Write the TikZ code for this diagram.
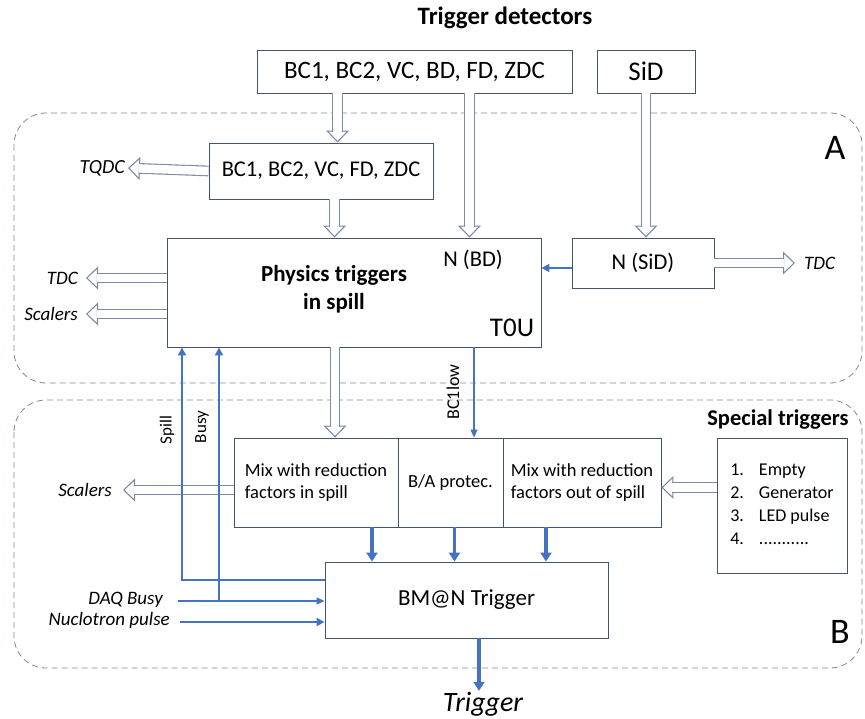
\documentclass[tikz,border=0pt]{standalone}
\usepackage{fontspec}
\setmainfont{Carlito}
\usepackage{tikz}
\usetikzlibrary{arrows.meta,calc,positioning}
\definecolor{boxline}{HTML}{44546A}
\definecolor{hollowline}{HTML}{7A8CA8}
\definecolor{zoneline}{HTML}{7A8BA5}
\definecolor{sigblue}{HTML}{4472C4}

% wide open arrow: outline tip first, then the white double shaft on top
\newcommand{\hollowarrow}[2]{%
  \draw[hollowtip] #1 -- #2;
  \draw[hollowbody] #1 -- #2;}

\begin{document}
\begin{tikzpicture}[x=1pt, y=-1pt, >=Latex,
  block/.style={draw=boxline, line width=0.9pt, fill=white, inner sep=0pt,
    font=\fontsize{25}{29}\selectfont},
  outlbl/.style={inner sep=5pt, font=\itshape\fontsize{19}{22}\selectfont},
  vtag/.style={rotate=90, inner sep=1pt, font=\fontsize{17}{20}\selectfont},
  zone/.style={draw=zoneline, line width=0.8pt, dash pattern=on 6pt off 4pt,
    rounded corners=32pt},
  zonetag/.style={font=\fontsize{36}{40}\selectfont},
  hollowtip/.style={draw=hollowline, line width=1.1pt,
    -{Triangle[length=12pt, width=23pt, fill=white]}},
  hollowbody/.style={draw=hollowline, line width=1.1pt, double=white,
    double distance=8.5pt, shorten >=11pt},
  sigthick/.style={draw=sigblue, line width=3.5pt,
    -{Triangle[length=9pt, width=11pt]}},
  sigmid/.style={draw=sigblue, line width=2pt,
    -{Triangle[length=8pt, width=8pt]}},
  sigthin/.style={draw=sigblue, line width=1.2pt,
    -{Triangle[length=8pt, width=7pt]}}]

  \useasboundingbox (0,0) rectangle (865,719);

  % ================= ZONES =================
  \draw[zone] (14,113) rectangle (862,383);
  \draw[zone] (14,400) rectangle (862,668);
  \node[zonetag] (tagA) at (835,148) {A};
  \node[zonetag] (tagB) at (840,632) {B};

  % ================= TRIGGER DETECTORS =================
  \node[font=\bfseries\fontsize{25}{29}\selectfont] (title) at (505,18) {Trigger detectors};
  \node[block, minimum width=315pt, minimum height=43pt] (det) at (414.5,71.5)
    {BC1, BC2, VC, BD, FD, ZDC};
  \node[block, minimum width=98pt, minimum height=43pt,
    font=\fontsize{27}{31}\selectfont] (sid) at (646,71.5) {SiD};

  % ================= ZONE A: T0U =================
  \node[block, minimum width=224pt, minimum height=56pt,
    font=\fontsize{22.5}{26}\selectfont] (tqdc) at (321,171)
    {BC1, BC2, VC, FD, ZDC};
  \node[block, minimum width=374pt, minimum height=109pt] (phys) at (354,292.5) {};
  \node[align=center, font=\bfseries\fontsize{23}{28}\selectfont] (physname) at (334,289)
    {Physics triggers\\in spill};
  \node[font=\fontsize{22.5}{26}\selectfont] (nbd) at (473,260) {N (BD)};
  \node[font=\fontsize{27}{31}\selectfont] (t0u) at (512,328) {T0U};
  \node[block, minimum width=142pt, minimum height=50pt,
    font=\fontsize{22.5}{26}\selectfont] (nsid) at (643,263) {N (SiD)};

  % outputs of zone A
  \node[outlbl, anchor=east, inner sep=3pt, font=\itshape\fontsize{20}{23}\selectfont]
    (tqdcout) at (128,168) {TQDC};
  \node[outlbl, anchor=east, inner sep=8pt] (tdcL) at (86,278) {TDC};
  \node[outlbl, anchor=east, inner sep=8pt] (scalA) at (86,314) {Scalers};
  \node[outlbl, anchor=west, inner sep=9pt] (tdcR) at (795,263) {TDC};

  \coordinate (detA) at ([xshift=81pt]det.south west);
  \coordinate (detB) at ([xshift=-103pt]det.south east);
  \coordinate (tqA) at ([xshift=126pt]tqdc.south west);
  \hollowarrow{(detA)}{(detA |- tqdc.north)}
  \hollowarrow{(tqA)}{(tqA |- phys.north)}
  \hollowarrow{(detB)}{(detB |- phys.north)}
  \hollowarrow{(sid.south)}{(sid.south |- nsid.north)}
  \hollowarrow{(tqdc.west)}{(tqdcout.east)}
  \hollowarrow{([yshift=14.5pt]phys.west)}{(tdcL.east)}
  \hollowarrow{([yshift=-21.5pt]phys.west)}{(scalA.east)}
  \hollowarrow{(nsid.east)}{(tdcR.west)}
  \draw[sigmid] ([yshift=-5pt]nsid.west) -- ([yshift=-5pt]nsid.west -| phys.east);

  % ================= ZONE B: BM@N TRIGGER =================
  \node[block, minimum width=164pt, minimum height=89pt, align=left,
    font=\fontsize{18.5}{22}\selectfont] (mix1) at (316,482.5)
    {Mix with reduction\\factors in spill};
  \node[block, minimum width=105pt, minimum height=89pt,
    font=\fontsize{18.5}{22}\selectfont] (prot) at (450.5,482.5) {B/A protec.};
  \node[block, minimum width=158pt, minimum height=89pt, align=left,
    font=\fontsize{18.5}{22}\selectfont] (mix3) at (582,482.5)
    {Mix with reduction\\factors out of spill};
  \node[block, minimum width=130pt, minimum height=135pt,
    font=\fontsize{18}{23}\selectfont] (spec) at (782,505.5)
    {\begin{tabular}{@{}l@{\hspace{15pt}}l@{}}
      1. & Empty\\ 2. & Generator\\ 3. & LED pulse\\ 4. & ...........
    \end{tabular}};
  \node[font=\bfseries\fontsize{22.5}{26}\selectfont] (spectitle) at (778,420) {Special triggers};
  \node[block, minimum width=283pt, minimum height=76pt,
    font=\fontsize{23}{27}\selectfont] (bmn) at (466.5,600) {BM@N Trigger};
  \node[font=\itshape\fontsize{28}{32}\selectfont, inner sep=1pt] (trig) at (483,704) {Trigger};

  \node[outlbl, anchor=east, inner sep=11pt] (scalB) at (123,490) {Scalers};
  \node[outlbl, anchor=base east, inner sep=0pt] (daqtag) at (163,604) {DAQ Busy};
  \node[outlbl, anchor=base east, inner sep=0pt] (nuctag) at (170,625) {Nuclotron pulse};
  \node[vtag] (spilltag) at (167,430) {Spill};
  \node[vtag] (busytag) at (202,427) {Busy};
  \node[vtag, font=\fontsize{18}{21}\selectfont] (bc1tag) at (453,392) {BC1low};

  \coordinate (physA) at ([xshift=-19pt]phys.south);
  \coordinate (physB) at ([xshift=120pt]phys.south);
  \coordinate (mixA) at ([yshift=-7.5pt]mix1.west);
  \coordinate (specA) at ([yshift=18pt]spec.west);
  \coordinate (mixOut) at ([xshift=56pt]mix1.south);
  \coordinate (protOut) at ([xshift=4pt]prot.south);
  \coordinate (mix3Out) at ([xshift=-36pt]mix3.south);
  \coordinate (bmnOut) at ([xshift=12.5pt]bmn.south);
  \coordinate (spillbend) at (182,580);
  \coordinate (busyjoin) at (219,601);
  \coordinate (daqstart) at (178,601);
  \coordinate (nucstart) at (180,622);

  \hollowarrow{(physA)}{(physA |- mix1.north)}
  \hollowarrow{(mixA)}{(scalB.east)}
  \hollowarrow{(specA)}{(specA -| mix3.east)}
  \draw[sigthin] (physB) -- (physB |- prot.north);

  \draw[sigthick] (mixOut) -- (mixOut |- bmn.north);
  \draw[sigthick] (protOut) -- (protOut |- bmn.north);
  \draw[sigthick] (mix3Out) -- (mix3Out |- bmn.north);
  \draw[sigthick] (bmnOut) -- (bmnOut |- trig.north);

  % spill and busy back to T0U
  \draw[sigmid] (spillbend -| bmn.west) -- (spillbend) -- (spillbend |- phys.south);
  \draw[sigmid] (busyjoin) -- (busyjoin |- phys.south);
  \draw[sigthin] (daqstart) -- (daqstart -| bmn.west);
  \draw[sigmid] (nucstart) -- (nucstart -| bmn.west);

\end{tikzpicture}
\end{document}
